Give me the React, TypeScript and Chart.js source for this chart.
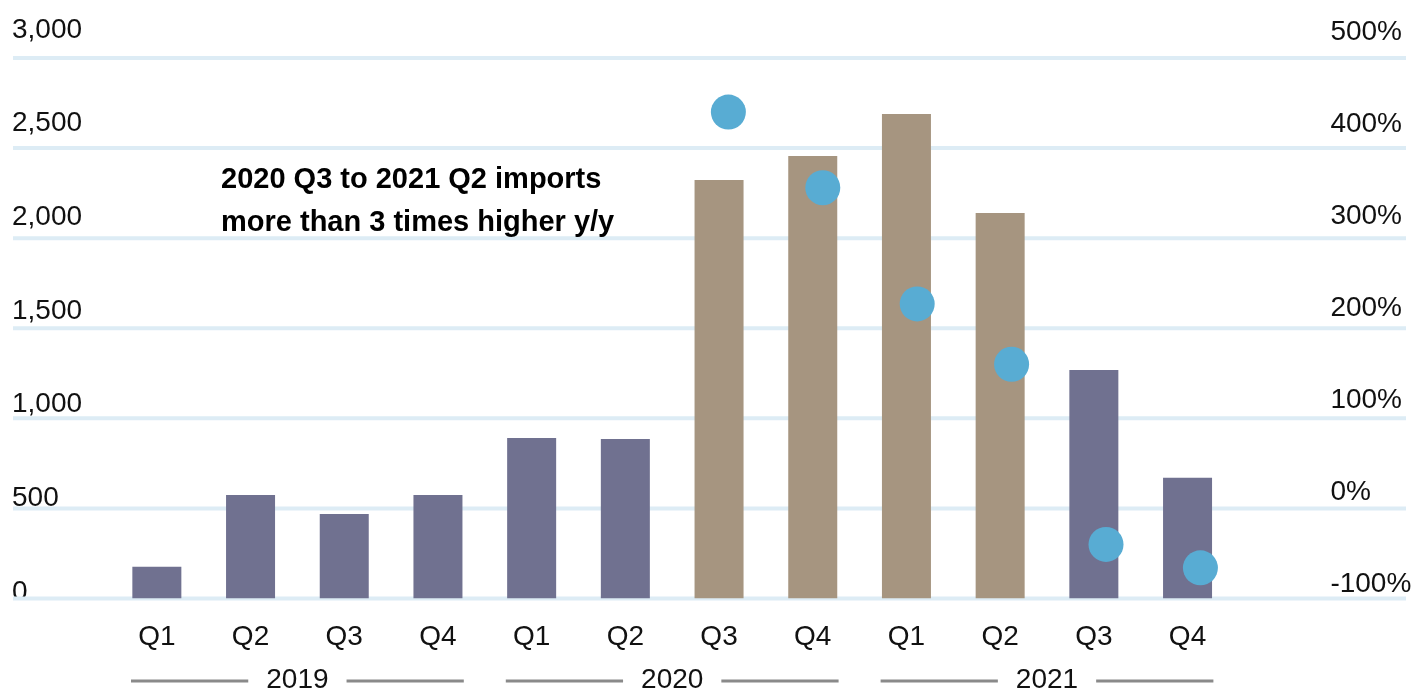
import React, { useEffect, useRef } from "react";
import { Chart, registerables } from "chart.js";

Chart.register(...registerables);

// ---------- data ----------
const QUARTERS = ["Q1", "Q2", "Q3", "Q4", "Q1", "Q2", "Q3", "Q4", "Q1", "Q2", "Q3", "Q4"];
const YEARS = ["2019", "2020", "2021"];
const IMPORTS = [176, 574, 469, 574, 891, 885, 2323, 2456, 2689, 2140, 1268, 670];
const GROWTH_PCT: (number | null)[] = [null, null, null, null, null, null, 440, 356, 227, 160, -40, -66];
const HIGHLIGHTED = [false, false, false, false, false, false, true, true, true, true, false, false];
const LEFT_TICKS = [0, 500, 1000, 1500, 2000, 2500, 3000];
const RIGHT_TICKS = [-100, 0, 100, 200, 300, 400, 500];
const ANNOTATION = ["2020 Q3 to 2021 Q2 imports", "more than 3 times higher y/y"];

// ---------- style ----------
const FONT_FAMILY = "'Liberation Sans', Arial, Helvetica, sans-serif";
const TEXT_COLOR = "#111111";
const BAR_COLOR = "#707190";
const HIGHLIGHT_COLOR = "#a69580";
const DOT_COLOR = "#58acd3";
const GRID_COLOR = "#ddecf5";
const RULE_COLOR = "#8a8a8a";

const decorations = {
  id: "decorations",
  beforeDatasetsDraw(chart: any) {
    const ctx = chart.ctx;
    const y = chart.scales.y;
    ctx.save();
    ctx.strokeStyle = GRID_COLOR;
    ctx.lineWidth = 4;
    for (const v of LEFT_TICKS) {
      const py = y.getPixelForValue(v);
      ctx.beginPath();
      ctx.moveTo(13, py);
      ctx.lineTo(1406, py);
      ctx.stroke();
    }
    ctx.restore();
  },
  afterDraw(chart: any) {
    const ctx = chart.ctx;
    const xs = chart.scales.xYears;
    ctx.save();
    ctx.font = `28px ${FONT_FAMILY}`;
    ctx.strokeStyle = RULE_COLOR;
    ctx.lineWidth = 3;
    const half = xs.width / YEARS.length / 2 - 21;
    const ry = xs.top + 22.5;
    YEARS.forEach((label, i) => {
      const cx = xs.getPixelForTick(i);
      const tw = ctx.measureText(label).width / 2 + 18;
      ctx.beginPath();
      ctx.moveTo(cx - half, ry);
      ctx.lineTo(cx - tw, ry);
      ctx.moveTo(cx + tw, ry);
      ctx.lineTo(cx + half, ry);
      ctx.stroke();
    });
    ctx.fillStyle = "#000";
    ctx.font = `bold 29px ${FONT_FAMILY}`;
    ctx.textBaseline = "alphabetic";
    ctx.textAlign = "left";
    ANNOTATION.forEach((line, i) => {
      ctx.fillText(line, 221, 188 + i * 43);
    });
    ctx.restore();
  },
};

export default function App() {
  const canvasRef = useRef<HTMLCanvasElement | null>(null);

  useEffect(() => {
    const canvas = canvasRef.current;
    if (!canvas) return;
    const font = { family: FONT_FAMILY, size: 28 };
    const dots = GROWTH_PCT.map((v, i) => (v === null ? null : { x: i, y: v })).filter(
      (p) => p !== null
    );
    const chart = new Chart(canvas, {
      type: "bar",
      data: {
        labels: QUARTERS,
        datasets: [
          {
            type: "scatter",
            data: dots as any,
            xAxisID: "xDots",
            yAxisID: "yPct",
            pointRadius: 17.5,
            pointHoverRadius: 17.5,
            pointBackgroundColor: DOT_COLOR,
            pointBorderWidth: 0,
            borderWidth: 0,
            order: 1,
          } as any,
          {
            type: "bar",
            data: IMPORTS,
            xAxisID: "x",
            yAxisID: "y",
            grouped: false,
            backgroundColor: IMPORTS.map((_, i) => (HIGHLIGHTED[i] ? HIGHLIGHT_COLOR : BAR_COLOR)),
            borderWidth: 0,
            barPercentage: 0.523,
            categoryPercentage: 1,
            order: 2,
          } as any,
        ],
      },
      options: {
        responsive: true,
        maintainAspectRatio: false,
        animation: false,
        layout: { padding: { left: 12, right: 0, top: 58, bottom: 0 } },
        plugins: { legend: { display: false }, tooltip: { enabled: false } },
        scales: {
          x: {
            type: "category",
            position: "bottom",
            weight: 0,
            offset: true,
            grid: { display: false, drawTicks: false },
            border: { display: false },
            ticks: { font, color: TEXT_COLOR, padding: 21.7, autoSkip: false, maxRotation: 0 },
            afterFit: (s: any) => {
              s.height = 60;
            },
          },
          xYears: {
            type: "category",
            labels: YEARS,
            position: "bottom",
            weight: 1,
            offset: true,
            bounds: "ticks",
            grid: { display: false, drawTicks: false },
            border: { display: false },
            ticks: { font, color: TEXT_COLOR, padding: 4.7, autoSkip: false, maxRotation: 0 },
            afterFit: (s: any) => {
              s.height = 31.5;
            },
          },
          xDots: {
            type: "linear",
            display: false,
            offset: false,
            bounds: "data",
            grid: { offset: false },
            min: -0.55,
            max: 11.36,
          },
          y: { type: "linear", display: false, min: 0, max: 3000 },
          yPct: { type: "linear", display: false, min: -100, max: 500 },
          yLabels: {
            type: "linear",
            position: "left",
            bounds: "data",
            min: -35,
            max: 2850,
            grid: { display: false, drawTicks: false },
            border: { display: false },
            afterBuildTicks: (s: any) => {
              s.ticks = LEFT_TICKS.map((v) => ({ value: v }));
            },
            ticks: {
              font,
              color: TEXT_COLOR,
              crossAlign: "far",
              padding: 0,
              autoSkip: false,
              callback: (v: any) => Number(v).toLocaleString("en-US"),
            },
            afterFit: (s: any) => {
              s.width = 98;
            },
          },
          yPctLabels: {
            type: "linear",
            position: "right",
            bounds: "data",
            min: -115,
            max: 472,
            grid: {
              display: true,
              drawOnChartArea: false,
              drawTicks: true,
              tickLength: 96,
              color: "rgba(0,0,0,0)",
            },
            border: { display: false },
            afterBuildTicks: (s: any) => {
              s.ticks = RIGHT_TICKS.map((v) => ({ value: v }));
            },
            ticks: {
              font,
              color: TEXT_COLOR,
              crossAlign: "near",
              padding: 0,
              autoSkip: false,
              callback: (v: any) => `${v}%`,
            },
            afterFit: (s: any) => {
              s.width = 186.6;
            },
          },
        } as any,
      },
      plugins: [decorations],
    });
    return () => chart.destroy();
  }, []);

  return (
    <div style={{ position: "absolute", left: 0, top: 0, width: 1421, height: 690, background: "#fff" }}>
      <canvas ref={canvasRef} />
    </div>
  );
}
